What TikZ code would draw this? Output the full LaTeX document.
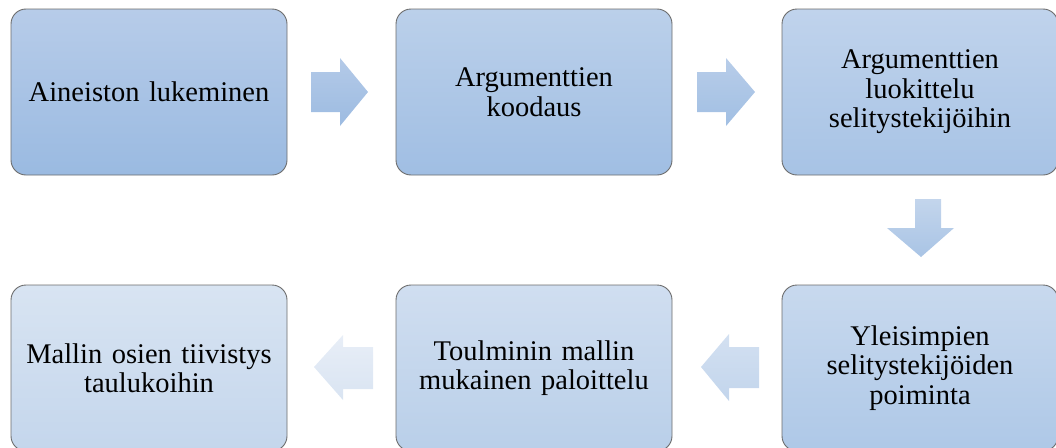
\documentclass[tikz,border=0pt]{standalone}
\usepackage{fontspec}
\setmainfont{Liberation Serif}
\begin{document}
\begin{tikzpicture}[x=1pt,y=-1pt,
  boxst/.style={draw=gray!85!black, line width=0.9pt, rounded corners=15pt,
    minimum width=276pt, minimum height=166pt, text width=272pt, align=center,
    font=\fontsize{28.5}{29.5}\selectfont, inner sep=0pt},
]
\useasboundingbox (0,0) rectangle (1056,447);
\definecolor{t1}{HTML}{B7CCE9}\definecolor{b1}{HTML}{9ABAE1}
\definecolor{t2}{HTML}{BBD0EA}\definecolor{b2}{HTML}{A0BEE3}
\definecolor{t3}{HTML}{C0D3EC}\definecolor{b3}{HTML}{A7C3E5}
\definecolor{t6}{HTML}{C8D9EE}\definecolor{b6}{HTML}{AEC8E7}
\definecolor{t5}{HTML}{D0DEF0}\definecolor{b5}{HTML}{B9CFE9}
\definecolor{t4}{HTML}{D8E4F2}\definecolor{b4}{HTML}{C4D6EC}
\definecolor{at1}{HTML}{B4CAE8}\definecolor{ab1}{HTML}{9CBBE1}
\definecolor{at2}{HTML}{B8CDE9}\definecolor{ab2}{HTML}{A1BFE3}
\definecolor{at3}{HTML}{C3D5EC}\definecolor{ab3}{HTML}{A9C4E5}
\definecolor{at4}{HTML}{D3E0F1}\definecolor{ab4}{HTML}{C2D5EC}
\definecolor{at5}{HTML}{E8EEF7}\definecolor{ab5}{HTML}{D9E4F2}
% boxes
\node[boxst, top color=t1, bottom color=b1] (n1) at (149,92) {Aineiston lukeminen};
\node[boxst, top color=t2, bottom color=b2] (n2) at (534,92) {Argumenttien\\koodaus};
\node[boxst, top color=t3, bottom color=b3] (n3) at (920,92) {Argumenttien\\luokittelu\\selitystekijöihin};
\node[boxst, top color=t6, bottom color=b6] (n6) at (920,368) {Yleisimpien\\selitystekijöiden\\poiminta};
\node[boxst, top color=t5, bottom color=b5] (n5) at (534,368) {Toulminin mallin\\mukainen paloittelu};
\node[boxst, top color=t4, bottom color=b4] (n4) at (149,368) {Mallin osien tiivistys\\taulukoihin};
% arrows
\shade[top color=at1, bottom color=ab1]
  (311,72) -- (340,72) -- (340,58) -- (368,92) -- (340,126) -- (340,112) -- (311,112) -- cycle;
\shade[top color=at2, bottom color=ab2]
  (697,72) -- (726,72) -- (726,58) -- (755,92) -- (726,126) -- (726,112) -- (697,112) -- cycle;
\shade[top color=at3, bottom color=ab3]
  (915,199) -- (941,199) -- (941,228) -- (954,228) -- (921,257) -- (887,228) -- (915,228) -- cycle;
\shade[top color=at4, bottom color=ab4]
  (759,347) -- (729,347) -- (729,334) -- (701,367) -- (729,401) -- (729,388) -- (759,388) -- cycle;
\shade[top color=at5, bottom color=ab5]
  (373,347) -- (343,347) -- (343,335) -- (314,367) -- (343,400) -- (343,389) -- (373,389) -- cycle;
\end{tikzpicture}
\end{document}
